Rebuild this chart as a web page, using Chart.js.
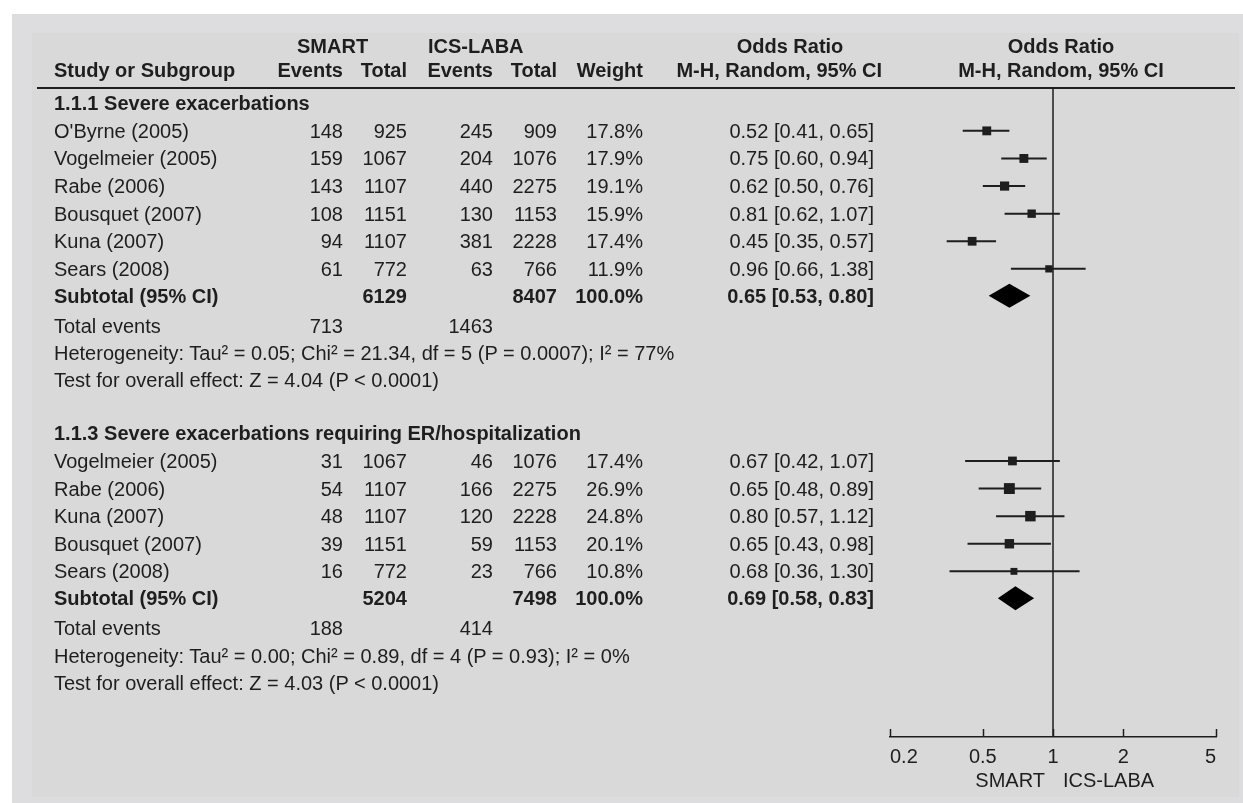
<!DOCTYPE html>
<html><head><meta charset="utf-8">
<script src="https://cdn.jsdelivr.net/npm/chart.js@4.4.1/dist/chart.umd.min.js"></script>
<style>
html,body{margin:0;padding:0;background:#fff;width:1243px;height:803px;overflow:hidden;font-family:"Liberation Sans",Arial,sans-serif;}
#outer{position:absolute;left:12px;top:14px;width:1231px;height:789px;background:#dddddf;}
#inner{position:absolute;left:32px;top:33px;width:1207px;height:764px;background:#d9d9d9;}
#wrap{position:absolute;left:0;top:0;width:1243px;height:803px;}
#hline{position:absolute;left:37px;top:87px;width:1198px;height:2px;background:#1e1e1e;}
.t{position:absolute;white-space:nowrap;font-size:20px;line-height:24px;color:#1e1e1e;}
.b{font-weight:bold;}
</style></head><body>
<div id="outer"></div><div id="inner"></div><div id="hline"></div>
<div id="wrap"><canvas id="c" width="1243" height="803"></canvas></div>
<div id="txt"></div>
<script>
// ---------- data ----------
const groupTitles = ["1.1.1 Severe exacerbations", "1.1.3 Severe exacerbations requiring ER/hospitalization"];

const studies1 = ["O'Byrne (2005)", "Vogelmeier (2005)", "Rabe (2006)", "Bousquet (2007)", "Kuna (2007)", "Sears (2008)"];
const smartEvents1 = [148, 159, 143, 108, 94, 61];
const smartTotal1 = [925, 1067, 1107, 1151, 1107, 772];
const icsEvents1 = [245, 204, 440, 130, 381, 63];
const icsTotal1 = [909, 1076, 2275, 1153, 2228, 766];
const weight1 = [17.8, 17.9, 19.1, 15.9, 17.4, 11.9];
const or1 = [0.52, 0.75, 0.62, 0.81, 0.45, 0.96];
const lo1 = [0.41, 0.60, 0.50, 0.62, 0.35, 0.66];
const hi1 = [0.65, 0.94, 0.76, 1.07, 0.57, 1.38];

const studies2 = ["Vogelmeier (2005)", "Rabe (2006)", "Kuna (2007)", "Bousquet (2007)", "Sears (2008)"];
const smartEvents2 = [31, 54, 48, 39, 16];
const smartTotal2 = [1067, 1107, 1107, 1151, 772];
const icsEvents2 = [46, 166, 120, 59, 23];
const icsTotal2 = [1076, 2275, 2228, 1153, 766];
const weight2 = [17.4, 26.9, 24.8, 20.1, 10.8];
const or2 = [0.67, 0.65, 0.80, 0.65, 0.68];
const lo2 = [0.42, 0.48, 0.57, 0.43, 0.36];
const hi2 = [1.07, 0.89, 1.12, 0.98, 1.30];

const subtotalSmart = [6129, 5204];
const subtotalIcs = [8407, 7498];
const subtotalWeight = [100.0, 100.0];
const subtotalOR = [0.65, 0.69];
const subtotalLo = [0.53, 0.58];
const subtotalHi = [0.80, 0.83];
const totalEventsSmart = [713, 188];
const totalEventsIcs = [1463, 414];
const heterogeneity = [
  "Heterogeneity: Tau\u00B2 = 0.05; Chi\u00B2 = 21.34, df = 5 (P = 0.0007); I\u00B2 = 77%",
  "Heterogeneity: Tau\u00B2 = 0.00; Chi\u00B2 = 0.89, df = 4 (P = 0.93); I\u00B2 = 0%"
];
const overallEffect = [
  "Test for overall effect: Z = 4.04 (P < 0.0001)",
  "Test for overall effect: Z = 4.03 (P < 0.0001)"
];
const xTicks = [0.2, 0.5, 1, 2, 5];
const favoursLeft = "SMART";
const favoursRight = "ICS-LABA";

// ---------- layout ----------
const W = 1243, H = 803;
const TOP = 88, BOTTOM = 737, ROW = 27.6;
const yMax = (BOTTOM - TOP) / ROW;
const groups = [
  {title: groupTitles[0], names: studies1, se: smartEvents1, st: smartTotal1, ie: icsEvents1, it: icsTotal1, w: weight1, or: or1, lo: lo1, hi: hi1},
  {title: groupTitles[1], names: studies2, se: smartEvents2, st: smartTotal2, ie: icsEvents2, it: icsTotal2, w: weight2, or: or2, lo: lo2, hi: hi2}
];
let pos = 0.543;
groups.forEach(g => {
  g.headRow = pos;
  g.rows = g.names.map((_, i) => pos + 1.01 + i);
  g.subRow = g.rows[g.rows.length - 1] + 0.97;
  g.totRow = g.subRow + 1.1;
  g.hetRow = g.totRow + 0.98;
  g.testRow = g.hetRow + 0.98;
  pos = g.testRow + 1.92;
});

const ink = '#1e1e1e';
const squarePts = [], squareR = [];
const ciSets = [];
groups.forEach(g => {
  g.rows.forEach((r, i) => {
    squarePts.push({x: g.or[i], y: r});
    squareR.push(2.1 * Math.sqrt(g.w[i]) / Math.SQRT2);
    ciSets.push({type: 'line', data: [{x: g.lo[i], y: r}, {x: g.hi[i], y: r}], borderColor: ink, borderWidth: 2, pointRadius: 0, showLine: true});
  });
});

const datasets = [
  {type: 'scatter', data: squarePts, pointStyle: 'rect', pointRadius: squareR, pointBackgroundColor: ink, pointBorderWidth: 0, pointBorderColor: ink},
  ...ciSets,
  {type: 'line', data: [{x: 1, y: 0}, {x: 1, y: yMax}], borderColor: ink, borderWidth: 1.5, pointRadius: 0}
];

const forestPlugin = {
  id: 'forest',
  afterDatasetsDraw(chart) {
    const ctx = chart.ctx, xs = chart.scales.x, ys = chart.scales.y;
    ctx.save();
    ctx.fillStyle = '#000';
    groups.forEach((g, k) => {
      const y = ys.getPixelForValue(g.subRow);
      const h = 12;
      ctx.beginPath();
      ctx.moveTo(xs.getPixelForValue(subtotalLo[k]), y);
      ctx.lineTo(xs.getPixelForValue(subtotalOR[k]), y - h);
      ctx.lineTo(xs.getPixelForValue(subtotalHi[k]), y);
      ctx.lineTo(xs.getPixelForValue(subtotalOR[k]), y + h);
      ctx.closePath();
      ctx.fill();
    });
    ctx.strokeStyle = ink;
    ctx.lineWidth = 1.5;
    xTicks.forEach(v => {
      const px = Math.round(xs.getPixelForValue(v)) + 0.5;
      ctx.beginPath();
      ctx.moveTo(px, chart.chartArea.bottom);
      ctx.lineTo(px, chart.chartArea.bottom - 8);
      ctx.stroke();
    });
    ctx.restore();
  }
};

const chart = new Chart(document.getElementById('c'), {
  type: 'scatter',
  data: {datasets},
  options: {
    responsive: false,
    animation: false,
    events: [],
    layout: {padding: {left: 890, right: 27, top: TOP, bottom: 0}},
    plugins: {legend: {display: false}, tooltip: {enabled: false}},
    scales: {
      x: {
        type: 'logarithmic', min: 0.2, max: 5, position: 'bottom',
        afterBuildTicks(s) { s.ticks = xTicks.map(v => ({value: v})); },
        afterFit(s) { s.height = H - BOTTOM; },
        grid: {display: false, drawTicks: false},
        border: {display: true, color: ink, width: 1.5},
        ticks: {
          autoSkip: false, maxRotation: 0, align: 'inner', padding: 8, color: ink,
          font: {family: '"Liberation Sans", Arial, sans-serif', size: 20},
          callback: v => String(v)
        }
      },
      y: {type: 'linear', min: 0, max: yMax, reverse: true, display: false}
    }
  },
  plugins: [forestPlugin]
});

// ---------- text ----------
const txt = document.getElementById('txt');
function put(str, x, yc, align, bold) {
  const d = document.createElement('div');
  d.className = 't' + (bold ? ' b' : '');
  d.textContent = str;
  d.style.top = (yc - 12) + 'px';
  if (align === 'right') { d.style.left = (x - 600) + 'px'; d.style.width = '600px'; d.style.textAlign = 'right'; }
  else if (align === 'center') { d.style.left = (x - 300) + 'px'; d.style.width = '600px'; d.style.textAlign = 'center'; }
  else { d.style.left = x + 'px'; }
  txt.appendChild(d);
}
const xs = chart.scales.x, ys = chart.scales.y;
const plotMid = (xs.left + xs.right) / 2 + 8;
const C = {name: 54, se: 343, st: 407, ie: 493, it: 557, w: 643, or: 874};
// header
put("SMART", 297, 46, 'left', true);
put("ICS-LABA", 428, 46, 'left', true);
put("Odds Ratio", 790, 46, 'center', true);
put("Odds Ratio", plotMid, 46, 'center', true);
put("Study or Subgroup", C.name, 70, 'left', true);
put("Events", C.se, 70, 'right', true);
put("Total", C.st, 70, 'right', true);
put("Events", C.ie, 70, 'right', true);
put("Total", C.it, 70, 'right', true);
put("Weight", C.w, 70, 'right', true);
put("M-H, Random, 95% CI", 882, 70, 'right', true);
put("M-H, Random, 95% CI", plotMid, 70, 'center', true);

const fmtCI = (o, l, h) => o.toFixed(2) + " [" + l.toFixed(2) + ", " + h.toFixed(2) + "]";
groups.forEach((g, k) => {
  const Y = v => ys.getPixelForValue(v);
  put(g.title, C.name, Y(g.headRow), 'left', true);
  g.rows.forEach((r, i) => {
    const y = Y(r);
    put(g.names[i], C.name, y, 'left');
    put(String(g.se[i]), C.se, y, 'right');
    put(String(g.st[i]), C.st, y, 'right');
    put(String(g.ie[i]), C.ie, y, 'right');
    put(String(g.it[i]), C.it, y, 'right');
    put(g.w[i].toFixed(1) + "%", C.w, y, 'right');
    put(fmtCI(g.or[i], g.lo[i], g.hi[i]), C.or, y, 'right');
  });
  const ys2 = Y(g.subRow);
  put("Subtotal (95% CI)", C.name, ys2, 'left', true);
  put(String(subtotalSmart[k]), C.st, ys2, 'right', true);
  put(String(subtotalIcs[k]), C.it, ys2, 'right', true);
  put(subtotalWeight[k].toFixed(1) + "%", C.w, ys2, 'right', true);
  put(fmtCI(subtotalOR[k], subtotalLo[k], subtotalHi[k]), C.or, ys2, 'right', true);
  const yt = Y(g.totRow);
  put("Total events", C.name, yt, 'left');
  put(String(totalEventsSmart[k]), C.se, yt, 'right');
  put(String(totalEventsIcs[k]), C.ie, yt, 'right');
  put(heterogeneity[k], C.name, Y(g.hetRow), 'left');
  put(overallEffect[k], C.name, Y(g.testRow), 'left');
});
const one = xs.getPixelForValue(1);
put(favoursLeft, one - 8, 780, 'right');
put(favoursRight, one + 10, 780, 'left');
</script>
</body></html>
